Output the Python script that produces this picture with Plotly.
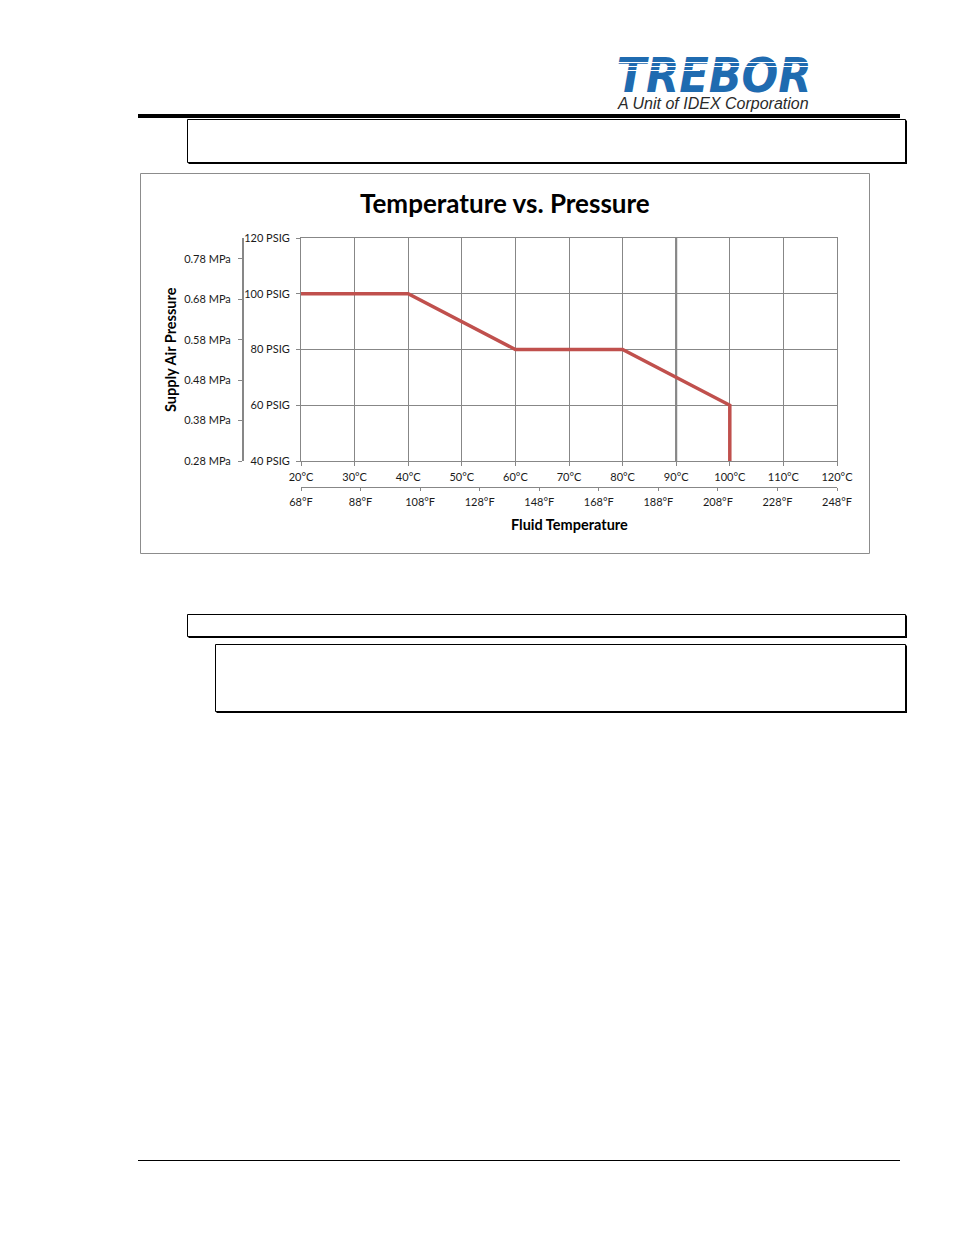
import plotly.graph_objects as go

# ---- data ----
temp_c = [20, 40, 60, 80, 100, 100]
pressure_psig = [100, 100, 80, 80, 60, 40]

c_ticks = [20, 30, 40, 50, 60, 70, 80, 90, 100, 110, 120]
c_labels = [f"{v}°C" for v in c_ticks]
psig_ticks = [40, 60, 80, 100, 120]
psig_labels = [f"{v} PSIG" for v in psig_ticks]
f_ticks = [68, 88, 108, 128, 148, 168, 188, 208, 228, 248]
f_labels = [f"{v}°F" for v in f_ticks]
mpa_ticks = [0.28, 0.38, 0.48, 0.58, 0.68, 0.78]
mpa_labels = [f"{v:.2f} MPa" for v in mpa_ticks]

title = "Temperature vs. Pressure"
y_title = "Supply Air Pressure"
x_title = "Fluid Temperature"
logo_text = "TREBOR"
logo_sub = "A Unit of IDEX Corporation"

# page is 954x1235; the html body adds an 8px margin, so the figure is
# sized to fit inside and page coordinates are shifted by that margin
OFF = 8
W, H = 954 - 2 * OFF, 1235 - 2 * OFF
def px(x):
    return (x - OFF) / W
def py(y):
    return 1 - (y - OFF) / H

GRID = "#878787"
FONT = "Lato"
TXT = "#1a1a1a"
LOGO_BLUE = "#1F6BB0"

# unit conversions for the secondary (°F / MPa) axes
psi_to_mpa = 0.0068948
mpa_min = mpa_ticks[0]
mpa_max = mpa_min + (psig_ticks[-1] - psig_ticks[0]) * psi_to_mpa
temp_f = [c * 9 / 5 + 32 for c in temp_c]
pressure_mpa = [mpa_min + (p - psig_ticks[0]) * psi_to_mpa for p in pressure_psig]

fig = go.Figure()
fig.add_trace(go.Scatter(
    x=temp_c, y=pressure_psig, mode="lines",
    line=dict(color="#C0504D", width=3.5),
    showlegend=False, hoverinfo="skip",
))
# same curve expressed in °F / MPa (transparent, only to carry the secondary axes)
fig.add_trace(go.Scatter(
    x=temp_f, y=pressure_mpa, xaxis="x2", yaxis="y2", mode="lines",
    line=dict(color="rgba(0,0,0,0)", width=0),
    showlegend=False, hoverinfo="skip",
))
# logo word as a text trace on its own hidden axes (so white stripes can sit above it)
fig.add_trace(go.Scatter(
    x=[0.5], y=[0.5], xaxis="x3", yaxis="y3", mode="text",
    text=[logo_text], textposition="middle center",
    textfont=dict(family="DejaVu Sans Condensed, Liberation Sans, sans-serif",
                  size=48, color=LOGO_BLUE, weight="bold", style="italic"),
    showlegend=False, hoverinfo="skip", cliponaxis=False,
))

tickfont = dict(family=FONT, size=11, color=TXT)

fig.update_layout(
    template="none",
    width=W, height=H,
    margin=dict(l=0, r=0, t=0, b=0, pad=0, autoexpand=False),
    paper_bgcolor="white", plot_bgcolor="white",
    showlegend=False,
    xaxis=dict(
        domain=[px(301), px(837)], range=[c_ticks[0], c_ticks[-1]],
        tickvals=c_ticks, ticktext=c_labels,
        showgrid=True, gridcolor=GRID, gridwidth=1,
        showline=True, linecolor=GRID, linewidth=1, mirror=True,
        ticks="outside", ticklen=4, tickcolor=GRID, tickwidth=1,
        ticklabelstandoff=2,
        tickfont=tickfont, zeroline=False, fixedrange=True, automargin=False,
    ),
    yaxis=dict(
        domain=[py(461), py(238)], range=[psig_ticks[0], psig_ticks[-1]],
        tickvals=psig_ticks, ticktext=psig_labels,
        showgrid=True, gridcolor=GRID, gridwidth=1,
        showline=True, linecolor=GRID, linewidth=1, mirror=True,
        ticks="outside", ticklen=4, tickcolor=GRID, tickwidth=1,
        ticklabelstandoff=4,
        tickfont=tickfont, zeroline=False, fixedrange=True, automargin=False,
    ),
    xaxis2=dict(
        overlaying="x", anchor="free", position=py(487), side="bottom",
        range=[f_ticks[0], f_ticks[-1]],
        tickvals=f_ticks, ticktext=f_labels,
        showgrid=False, showline=True, linecolor=GRID, linewidth=1,
        ticks="outside", ticklen=3, tickcolor=GRID, tickwidth=1,
        ticklabelstandoff=2,
        tickfont=tickfont, zeroline=False, fixedrange=True, automargin=False,
    ),
    yaxis2=dict(
        overlaying="y", anchor="free", position=px(243), side="left",
        range=[mpa_min, mpa_max],
        tickvals=mpa_ticks, ticktext=mpa_labels,
        showgrid=False, showline=True, linecolor=GRID, linewidth=2,
        ticks="outside", ticklen=4, tickcolor=GRID, tickwidth=1,
        ticklabelstandoff=5,
        tickfont=tickfont, zeroline=False, fixedrange=True, automargin=False,
    ),
    xaxis3=dict(domain=[px(614), px(814)], range=[0, 1], visible=False,
                fixedrange=True, anchor="y3"),
    yaxis3=dict(domain=[py(99.5), py(59.5)], range=[0, 1], visible=False,
                fixedrange=True, anchor="x3"),
)

shapes = []
# thick header rule
shapes.append(dict(type="rect", xref="paper", yref="paper",
                   x0=px(138), x1=px(900), y0=py(118), y1=py(114),
                   fillcolor="black", line=dict(width=0)))

def shadow_box(x0, y0, x1, y1):
    shapes.append(dict(type="rect", xref="paper", yref="paper",
                       x0=px(x0 + 1), x1=px(x1 + 1.5), y0=py(y1 + 1.5), y1=py(y0 + 1),
                       fillcolor="black", line=dict(width=0)))
    shapes.append(dict(type="rect", xref="paper", yref="paper",
                       x0=px(x0), x1=px(x1), y0=py(y1), y1=py(y0),
                       fillcolor="white", line=dict(color="black", width=1)))

shadow_box(187.5, 119.5, 905.5, 162.5)
shadow_box(187.5, 614.5, 905.5, 636.5)
shadow_box(215.5, 644.5, 905.5, 711.5)

# chart frame
shapes.append(dict(type="rect", xref="paper", yref="paper",
                   x0=px(140.5), x1=px(869.5), y0=py(553.5), y1=py(173.5),
                   line=dict(color="#8c8c8c", width=1), layer="below"))
# footer rule
shapes.append(dict(type="line", xref="paper", yref="paper",
                   x0=px(138), x1=px(900), y0=py(1160.5), y1=py(1160.5),
                   line=dict(color="black", width=1)))
# darker gridline at 90 °C
shapes.append(dict(type="line", xref="x", yref="paper",
                   x0=c_ticks[7], x1=c_ticks[7], y0=py(461), y1=py(238),
                   line=dict(color="#6e6e6e", width=2), layer="below"))
# white speed stripes across the logo letters
for sy, sx0, sx1 in [(62.5, 612, 812), (66.5, 612, 812), (70.5, 612, 700)]:
    shapes.append(dict(type="line", xref="paper", yref="paper",
                       x0=px(sx0), x1=px(sx1), y0=py(sy), y1=py(sy),
                       line=dict(color="white", width=1.2), layer="above"))
fig.update_layout(shapes=shapes)

annotations = [
    dict(text=title, x=px(505), y=py(203), xref="paper", yref="paper",
         showarrow=False, xanchor="center", yanchor="middle",
         font=dict(family=FONT, size=26, color="black", weight="bold")),
    dict(text=y_title, x=px(170), y=py(350), xref="paper", yref="paper",
         showarrow=False, xanchor="center", yanchor="middle", textangle=-90,
         font=dict(family=FONT, size=14.5, color="black", weight="bold")),
    dict(text=x_title, x=px(569), y=py(524), xref="paper", yref="paper",
         showarrow=False, xanchor="center", yanchor="middle",
         font=dict(family=FONT, size=14.5, color="black", weight="bold")),
    dict(text=logo_sub, x=px(713), y=py(103.5), xref="paper", yref="paper",
         showarrow=False, xanchor="center", yanchor="middle",
         font=dict(family="Liberation Sans", size=16, color="#2a2a2a", style="italic")),
]
fig.update_layout(annotations=annotations)

fig.write_html("out.html")
